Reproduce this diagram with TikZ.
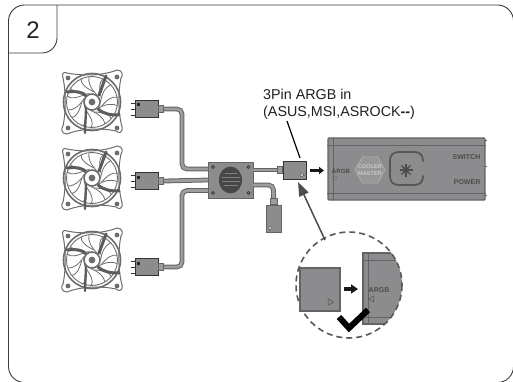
\documentclass[tikz,border=0pt]{standalone}
\usepackage{fontspec}
\setmainfont{Liberation Sans}
\usetikzlibrary{arrows.meta,positioning,calc,shapes.geometric}
\definecolor{bodyGray}{RGB}{140,140,142}
\definecolor{edgeGray}{RGB}{100,100,102}
\definecolor{fanGray}{RGB}{108,108,110}
\definecolor{frameInk}{RGB}{60,60,60}
\tikzset{
  cable/.style={draw=edgeGray, double=bodyGray!85, double distance=2.8pt, line width=1pt, rounded corners=5pt},
  plug/.style={draw=black!80, line width=.9pt, fill=bodyGray, minimum width=23pt, minimum height=17pt, inner sep=0pt},
  neck/.style={draw=edgeGray, line width=.7pt, fill=bodyGray!85, minimum width=5pt, minimum height=7pt, inner sep=0pt},
  printed/.style={font=\bfseries, text=black!70, inner sep=0pt},
  pics/fan/.style={code={
    % frame with bulged sides
    \draw[fanGray, line width=1pt]
      (-25,-29) .. controls (-10,-26) and (10,-26) .. (25,-32)
      .. controls (31,-32) and (31,-26) .. (29,-24)
      .. controls (26,-10) and (26,10) .. (30,25)
      .. controls (31,32) and (26,31) .. (24,29)
      .. controls (10,26) and (-10,26) .. (-25,32)
      .. controls (-31,32) and (-31,26) .. (-29,24)
      .. controls (-26,10) and (-26,-10) .. (-29,-24)
      .. controls (-31,-30) and (-27,-30) .. (-25,-29) -- cycle;
    % screw holes
    \foreach \hx/\hy in {-24/-24, 25/-25, 25/26, -24/26}
      \fill[fanGray] (\hx,\hy) circle (2.4);
    % rings
    \draw[fanGray, line width=1.6pt] (0,0) circle (28.5);
    \draw[fanGray, line width=.9pt] (0,0) circle (25.5);
    % thin blade edges
    \foreach \ang in {0,51,...,308}
      \draw[rotate=\ang, fanGray, line width=.8pt]
        (5,-7) .. controls (-2,-14) and (-4,-20) .. (-3,-25)
        (9,-5) .. controls (7,-14) and (7,-20) .. (11,-23);
    % struts
    \draw[fanGray!85!black, line width=3pt, line cap=round]
      (-25,-10) .. controls (-15,-11) and (-9,-10) .. (-6,-6);
    \draw[fanGray!85!black, line width=3pt, line cap=round]
      (14,-26) .. controls (11,-18) and (9,-12) .. (7,-7);
    \draw[fanGray!85!black, line width=3pt, line cap=round]
      (6,7) .. controls (12,12) and (18,13) .. (27,13);
    \draw[fanGray!85!black, line width=2.4pt, line cap=round]
      (-6,6) .. controls (-6,14) and (-7,22) .. (-7,31);
    % hub
    \draw[fill=white, draw=fanGray, line width=1.6pt] (0,0) circle (8);
    \fill[fanGray] (0,0) circle (3.4);
  }},
  pics/pins/.style={code={
    \foreach \py in {-6,0,6}
      \draw[black!80, line width=.9pt] (-4,\py) -- (0,\py);
    \fill[black!85] (2.5,-5.5) rectangle (5,-2.5);
  }},
}
\begin{document}
\begin{tikzpicture}[x=1pt, y=-1pt]
  \useasboundingbox (0,0) rectangle (513,382);

  % Outer frame and number tab
  \draw[frameInk, line width=.9pt, rounded corners=16pt] (8.5,5) rectangle (513.5,382.5);
  \draw[frameInk, line width=.9pt] (8.5,53) -- (42,53) arc[start angle=90, end angle=0, radius=15] -- (57,5);
  \node[font=\fontsize{24}{26}\selectfont, text=black!85] (tabnum) at (33,30) {2};

  % Fans with their plugs
  \foreach \nm/\fy/\py in {A/102/109, B/178/181, C/260/267} {
    \pic at (92,\fy) {fan};
    \node[plug] (plug\nm) at (146.5,\py) {};
    \pic at (plug\nm.west) {pins};
    \node[neck, right=0pt of plug\nm] (neck\nm) {};
  }

  % Hub
  \node[draw=edgeGray, line width=.9pt, fill=bodyGray, minimum width=45pt, minimum height=36pt] (hub) at (230.5,180) {};
  \coordinate (hubA) at (208,169);
  \coordinate (hubB) at (208,180);
  \coordinate (hubC) at (208,190.5);
  \coordinate (hubD) at (253,170);
  \coordinate (hubE) at (253,185);

  % Plugs on the way out
  \node[plug, minimum width=23pt, minimum height=18pt] (outplug) at (294.5,170) {};
  \node[neck, left=0pt of outplug] (outneck) {};
  \node[plug, draw=edgeGray, minimum width=15pt, minimum height=27pt] (sideplug) at (273.5,218.5) {};
  \node[neck, above=0pt of sideplug, minimum width=7pt, minimum height=6pt] (sideneck) {};

  % Cables
  \draw[cable] (neckA.east) -- (182,109) -- (182,169) -- (hubA);
  \draw[cable] (neckB.east) -- (hubB);
  \draw[cable] (neckC.east) -- (182,267) -- (182,190.5) -- (hubC);
  \draw[cable] (hubD) -- (outneck.west);
  \draw[cable] (hubE) -- (273.5,185) -- (sideneck.north);

  % Hub details, drawn over the cable ends
  \foreach \hx/\hy in {213/167, 248.5/167, 213/193, 248.5/193}
    \draw[black!75, line width=.9pt] (\hx,\hy) circle (1.4);
  \node[ellipse, fill=black!72, minimum width=23pt, minimum height=27pt, inner sep=0pt] (hubface) at (230.5,180) {};
  \foreach \ly/\lw in {173/6,177/9,181/9,185/7}
    \draw[black!50, line width=.4pt] (230.5-\lw,\ly) -- (230.5+\lw,\ly);

  % Triangles on the plugs
  \node[draw=black!70, fill=black!20, regular polygon, regular polygon sides=3, shape border rotate=-90, inner sep=0pt, minimum size=5pt] (outmark) at (302,175) {};
  \node[draw=black!70, fill=black!20, regular polygon, regular polygon sides=3, shape border rotate=180, inner sep=0pt, minimum size=5pt] (sidemark) at (270,228) {};

  % Controller box
  \node[draw=edgeGray, line width=1.4pt, fill=bodyGray, rounded corners=1pt, minimum width=157pt, minimum height=62pt] (ctrl) at (406.5,169) {};
  \draw[edgeGray, line width=.9pt] (ctrl.west |- 0,145) -- (ctrl.east |- 0,145);
  \draw[edgeGray, line width=.9pt] (ctrl.west |- 0,193) -- (ctrl.east |- 0,193);
  \draw[edgeGray, line width=.9pt] (333,138) -- (333,200);
  \foreach \ny in {140,166,195}
    \draw[edgeGray, line width=.9pt] (485,\ny) -- (486.5,\ny);
  \node[printed, font=\fontsize{6.2}{7}\bfseries] (argbtxt) at (341,171) {ARGB};
  \node[draw=black!62, regular polygon, regular polygon sides=3, shape border rotate=90, inner sep=0pt, minimum size=5pt] (argbmark) at (335,178) {};
  \node[regular polygon, regular polygon sides=6, draw=bodyGray!70, fill=bodyGray!90, line width=.8pt, minimum size=30pt, inner sep=0pt] (logo) at (370,170) {};
  \node[font=\fontsize{5.6}{6.2}\bfseries, text=white!55!bodyGray, align=center, inner sep=0pt] (logotxt) at (370,170) {COOLER\\MASTER};
  \draw[black!66, line width=1.8pt, line cap=round]
    (423,161) .. controls (423,155) and (420,152) .. (414,152) -- (399,152)
    .. controls (393,152) and (390,155) .. (390,161) -- (390,176)
    .. controls (390,182) and (393,185) .. (399,185) -- (414,185)
    .. controls (420,185) and (423,182) .. (423,176);
  \foreach \ang in {0,45,...,315}
    \draw[black!70, line width=1.3pt] (406,170) -- ++(\ang:6.5);
  \fill[black!70] (406,170) circle (3);
  \node[printed, font=\fontsize{7}{8}\bfseries, anchor=east] (switchtxt) at (480.5,157) {SWITCH};
  \node[printed, font=\fontsize{7}{8}\bfseries, anchor=east] (powertxt) at (480.5,182) {POWER};

  % Small push arrow
  \coordinate (pushA) at (310,170.5);
  \coordinate (pushB) at (324,170.5);
  \draw[black!90, line width=2.6pt, -{Triangle[length=5pt,width=7pt]}] (pushA) -- (pushB);

  % Label and its leader
  \node[font=\fontsize{14.3}{17}\selectfont, text=black!88, align=left, anchor=north west, inner sep=0pt] (inlabel) at (263,88.5) {3Pin ARGB in\\(ASUS,MSI,ASROCK\textbf{{-}{-}})};
  \coordinate (leadA) at (287,121);
  \coordinate (leadB) at (300,158);
  \draw[black, line width=1.2pt] (leadA) -- (leadB);

  % Detail lens
  \coordinate (lensC) at (349,285);
  \begin{scope}
    \clip (lensC) circle (53);
    \node[draw=edgeGray, line width=1.4pt, fill=bodyGray, minimum width=44pt, minimum height=71pt] (bigctrl) at (385,288.5) {};
    \draw[edgeGray, line width=1pt] (363,260) -- (420,260);
    \draw[edgeGray, line width=1pt] (363,317) -- (420,317);
    \draw[edgeGray, line width=1pt] (368,253) -- (368,324);
  \end{scope}
  \draw[black!65, line width=1.6pt, dash pattern=on 6pt off 4pt] (lensC) circle (53);
  \node[draw=edgeGray, line width=1.2pt, fill=bodyGray, minimum width=40pt, minimum height=43pt] (bigplug) at (320,289.5) {};
  \node[draw=black!62, line width=.7pt, regular polygon, regular polygon sides=3, shape border rotate=-90, inner sep=0pt, minimum size=7pt] (bigmark) at (330,302) {};
  \draw[black!90, line width=4pt, -{Triangle[length=7pt,width=9pt]}] (344,289) -- (358,289);
  \node[printed, font=\fontsize{7}{8}\bfseries] (bigtxt) at (379,290) {ARGB};
  \node[draw=black!62, line width=.7pt, regular polygon, regular polygon sides=3, shape border rotate=90, inner sep=0pt, minimum size=7pt] (bigmark2) at (372,299) {};
  \draw[black, line width=6pt] (339,317) -- (349,328) -- (368,310);

  % Arrow from lens up to the plug
  \coordinate (lensTop) at (325,240);
  \coordinate (plugTip) at (298,182);
  \draw[black!70, line width=1.5pt, -{Triangle[length=14pt,width=10pt]}] (lensTop) -- (plugTip);
\end{tikzpicture}
\end{document}
